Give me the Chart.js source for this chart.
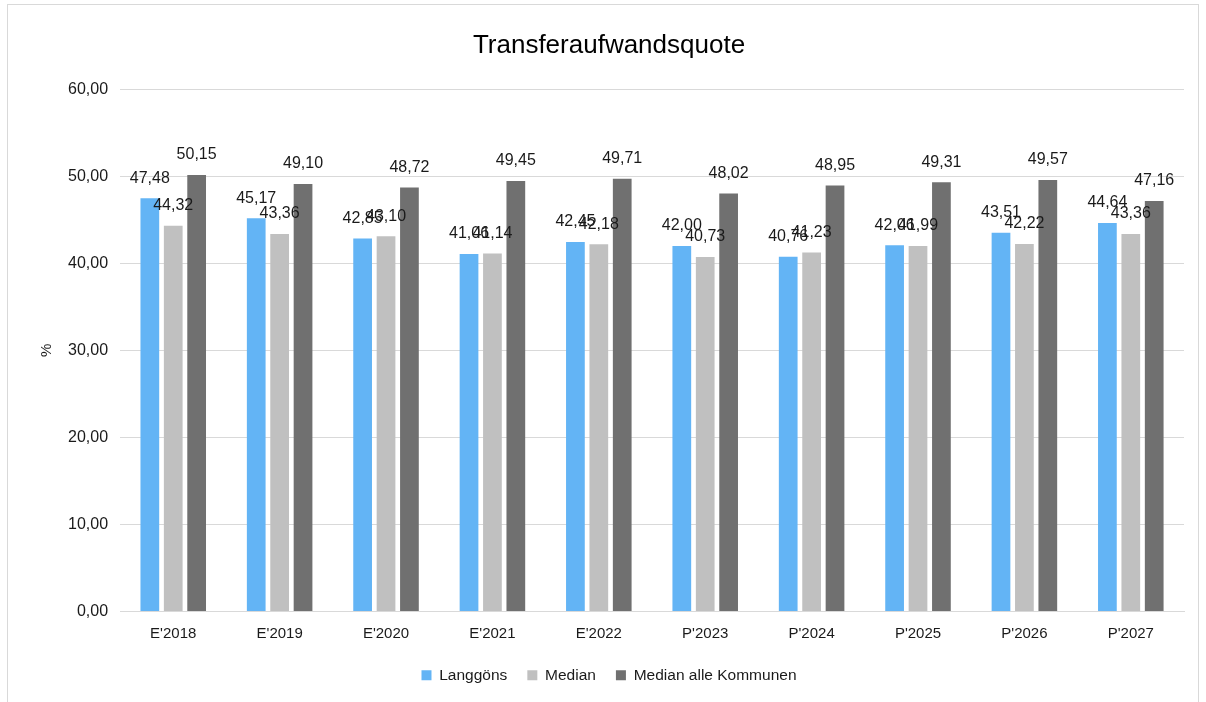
<!DOCTYPE html>
<html>
<head>
<meta charset="utf-8">
<script src="https://cdn.jsdelivr.net/npm/chart.js@4/dist/chart.umd.min.js"></script>
<style>
  html, body { margin: 0; padding: 0; background: #fff; }
  #frame { position: absolute; left: 7px; top: 4px; width: 1190px; height: 720px; border: 1px solid #d9d9d9; }
  #chart { position: absolute; left: 0; top: 0; }
</style>
</head>
<body>
<div id="frame"></div>
<canvas id="chart" width="1206" height="702"></canvas>
<script>
// Daten
var labels = ["E'2018", "E'2019", "E'2020", "E'2021", "E'2022", "P'2023", "P'2024", "P'2025", "P'2026", "P'2027"];
var langgoens = [47.48, 45.17, 42.85, 41.06, 42.45, 42.00, 40.76, 42.06, 43.51, 44.64];
var median = [44.32, 43.36, 43.10, 41.14, 42.18, 40.73, 41.23, 41.99, 42.22, 43.36];
var medianAlle = [50.15, 49.10, 48.72, 49.45, 49.71, 48.02, 48.95, 49.31, 49.57, 47.16];
var yTicks = [0, 10, 20, 30, 40, 50, 60];

var FONT = '"Liberation Sans", Arial, sans-serif';

function fmt(v){
	return v.toFixed(2).replace('.', ',');
}

// Werte ueber den Balken
var valueLabels = {
	id: 'valueLabels',
	afterDatasetsDraw: function(chart){
		var ctx = chart.ctx;
		ctx.save();
		ctx.font = '16px ' + FONT;
		ctx.fillStyle = '#1a1a1a';
		ctx.textAlign = 'center';
		ctx.textBaseline = 'middle';
		chart.data.datasets.forEach(function(ds, i){
			var meta = chart.getDatasetMeta(i);
			meta.data.forEach(function(bar, j){
				ctx.fillText(fmt(ds.data[j]), bar.x, bar.y - 20);
			});
		});
		ctx.restore();
	}
};

var ctx = document.getElementById('chart').getContext('2d');
var myChart = new Chart(ctx, {
	type: 'bar',
	data: {
		labels: labels,
		datasets: [
			{ label: 'Langgöns', data: langgoens, backgroundColor: '#63b4f5' },
			{ label: 'Median', data: median, backgroundColor: '#c0c0c0' },
			{ label: 'Median alle Kommunen', data: medianAlle, backgroundColor: '#707070' }
		]
	},
	options: {
		responsive: false,
		animation: false,
		devicePixelRatio: 1,
		layout: { padding: { left: 34, right: 22, top: 10, bottom: 9 } },
		datasets: { bar: { categoryPercentage: 0.66, barPercentage: 0.8 } },
		plugins: {
			title: {
				display: true,
				text: 'Transferaufwandsquote',
				color: '#000',
				font: { family: FONT, size: 26, weight: 'normal' },
				padding: { top: 20, bottom: 28 }
			},
			legend: {
				position: 'bottom',
				labels: {
					boxWidth: 10, boxHeight: 10, padding: 20,
					color: '#1a1a1a',
					font: { family: FONT, size: 15.5 }
				}
			},
			tooltip: { enabled: false }
		},
		scales: {
			x: {
				grid: { display: false },
				border: { color: '#d9d9d9' },
				ticks: { color: '#1a1a1a', padding: 5, font: { family: FONT, size: 15 } }
			},
			y: {
				min: 0, max: 60,
				afterBuildTicks: function(axis){ axis.ticks = yTicks.map(function(v){ return { value: v }; }); },
				grid: { color: '#d9d9d9', drawTicks: false },
				border: { display: false },
				title: {
					display: true, text: '%', color: '#1a1a1a', padding: { top: 4, bottom: 0 },
					font: { family: FONT, size: 15 }
				},
				ticks: {
					color: '#1a1a1a', padding: 12,
					font: { family: FONT, size: 16 },
					callback: function(v){ return fmt(v); }
				}
			}
		}
	},
	plugins: [valueLabels]
});
</script>
</body>
</html>
